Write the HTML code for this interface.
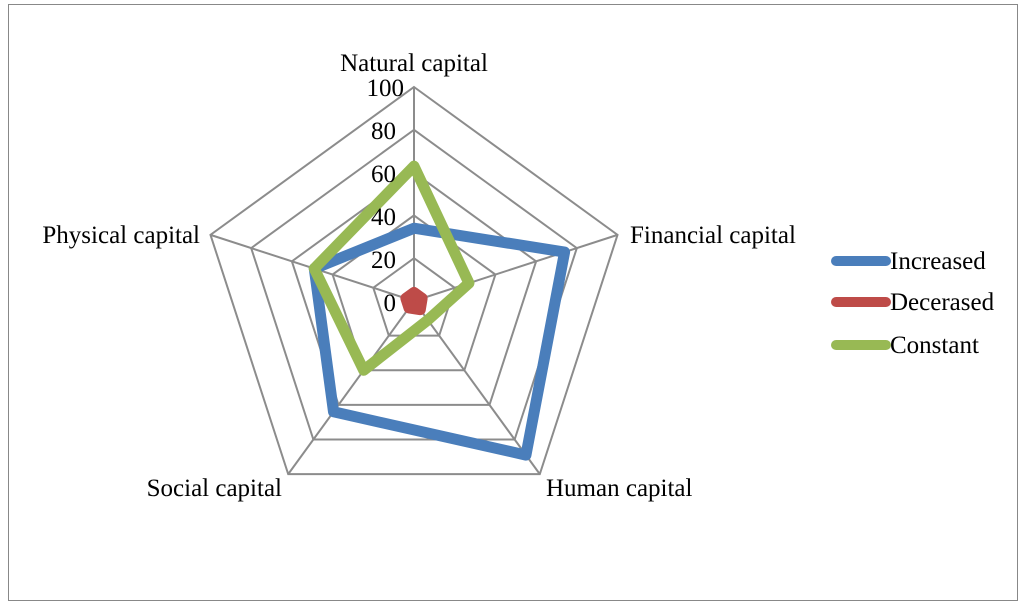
<!DOCTYPE html>
<html><head><style>
html,body{margin:0;padding:0;background:#fff;}
svg{display:block;}
text{font-family:"Liberation Serif",serif;font-size:25px;fill:#000;}
</style></head><body>
<svg width="1024" height="606" viewBox="0 0 1024 606">
<rect x="8.5" y="4.5" width="1009" height="596" fill="#fff" stroke="#888" stroke-width="1"/>
<g id="grid" stroke="#8c8c8c" stroke-width="2" fill="none"></g>
<g id="series" fill="none" stroke-linejoin="round" stroke-linecap="round"></g>
<text x="414" y="71" text-anchor="middle">Natural capital</text>
<text x="630" y="243">Financial capital</text>
<text x="546" y="496">Human capital</text>
<text x="282" y="496" text-anchor="end">Social capital</text>
<text x="200" y="243" text-anchor="end">Physical capital</text>
<text x="404" y="96" text-anchor="end">100</text>
<text x="396" y="139" text-anchor="end">80</text>
<text x="396" y="182" text-anchor="end">60</text>
<text x="396" y="225" text-anchor="end">40</text>
<text x="396" y="268" text-anchor="end">20</text>
<text x="396" y="311" text-anchor="end">0</text>
<line x1="836" y1="261" x2="886" y2="261" stroke="#4a7ebb" stroke-width="10" stroke-linecap="round"/>
<line x1="836" y1="302" x2="886" y2="302" stroke="#be4b48" stroke-width="10" stroke-linecap="round"/>
<line x1="836" y1="345" x2="886" y2="345" stroke="#98b954" stroke-width="10" stroke-linecap="round"/>
<text x="890" y="269">Increased</text>
<text x="890" y="310">Decerased</text>
<text x="890" y="353">Constant</text>
</svg>
<script>
var cx=414,cy=301,R=214,ns="http://www.w3.org/2000/svg";
function pt(i,v){var a=(-90+72*i)*Math.PI/180;var r=R*v/100;return [cx+r*Math.cos(a),cy+r*Math.sin(a)];}
var g=document.getElementById('grid');
for(var k=1;k<=5;k++){var p=[];for(var i=0;i<5;i++)p.push(pt(i,k*20).join(','));var e=document.createElementNS(ns,'polygon');e.setAttribute('points',p.join(' '));g.appendChild(e);}
for(var i=0;i<5;i++){var q=pt(i,100);var l=document.createElementNS(ns,'line');l.setAttribute('x1',cx);l.setAttribute('y1',cy);l.setAttribute('x2',q[0]);l.setAttribute('y2',q[1]);g.appendChild(l);}
var s=document.getElementById('series');
[[[34,74,89,64,49],'#4a7ebb',0],[[4,4,5,4,4],'#be4b48',1],[[63,27,11,40,49],'#98b954',0]].forEach(function(d){
var p=[];for(var i=0;i<5;i++)p.push(pt(i,d[0][i]).join(','));var e=document.createElementNS(ns,'polygon');e.setAttribute('points',p.join(' '));e.setAttribute('stroke',d[1]);e.setAttribute('stroke-width','11');if(d[2])e.setAttribute('fill',d[1]);s.appendChild(e);});
</script>
</body></html>
